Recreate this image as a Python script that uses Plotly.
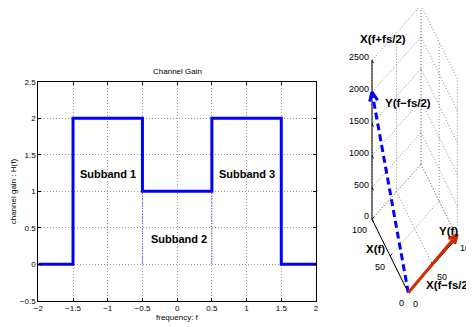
import plotly.graph_objects as go

# ---------------- left panel data ----------------
freq_edges = [-2, -1.5, -0.5, 0.5, 1.5, 2]
gain_levels = [0, 2, 1, 2, 0, 0]
sub_bounds = [-0.5, 0.5]
sub_bound_gain = [0, 1]
sub_labels = ["Subband 1", "Subband 2", "Subband 3"]
sub_label_x = [-1.0, 0.03, 1.0]
sub_label_y = [1.23, 0.34, 1.23]
x_ticks = [-2, -1.5, -1, -0.5, 0, 0.5, 1, 1.5, 2]
y_ticks = [-0.5, 0, 0.5, 1, 1.5, 2, 2.5]

# ---------------- right panel data (3-D vectors) ----------------
vec_blue = [100, 0, 2000]   # Y(f-fs/2)
vec_red = [0, 100, 50]      # Y(f)
xlim3 = [0, 100]
ylim3 = [0, 100]
zlim3 = [0, 2500]
xticks3 = [0, 50, 100]
yticks3 = [0, 50, 100]
zticks3 = [0, 500, 1000, 1500, 2000, 2500]

FONT = "Liberation Sans, Arial, Helvetica, sans-serif"
W, H = 474, 327          # browser window
PAD = 8                  # default page margin around the plot div
FW, FH = W - PAD, H - PAD


def pxx(px):
    return (px - PAD) / FW


def pxy(py):
    return 1 - (py - PAD) / FH


# projection of the 3-D view onto the right-hand 2-D canvas (screen pixel units)
O = (408.3, 292.7)
EX = (-36.3 / 100, -73.5 / 100)
EY = (49.0 / 100, -55.0 / 100)
EZ = (0.0, -159.0 / 2500)


def proj(x, y, z):
    return (O[0] + EX[0] * x + EY[0] * y + EZ[0] * z,
            O[1] + EX[1] * x + EY[1] * y + EZ[1] * z)


def seg_list(segs):
    xs, ys = [], []
    for a, b in segs:
        pa, pb = proj(*a), proj(*b)
        xs += [pa[0], pb[0], None]
        ys += [pa[1], pb[1], None]
    return xs, ys


fig = go.Figure()

# ---- left: channel gain ----
fig.add_trace(go.Scatter(x=freq_edges, y=gain_levels, mode="lines", line_shape="hv",
                         line=dict(color="#0000ff", width=3), xaxis="x", yaxis="y",
                         hoverinfo="skip", showlegend=False))
for b in sub_bounds:
    fig.add_trace(go.Scatter(x=[b, b], y=sub_bound_gain, mode="lines",
                             line=dict(color="#3333ff", width=1, dash="1px,1.5px"),
                             xaxis="x", yaxis="y", showlegend=False, hoverinfo="skip"))

annotations = []
for t, xx, yy in zip(sub_labels, sub_label_x, sub_label_y):
    annotations.append(dict(text=t, x=xx, y=yy, xref="x", yref="y", showarrow=False,
                            xanchor="center", yanchor="middle",
                            font=dict(family=FONT, size=11, color="black", weight="bold")))
annotations.append(dict(text="Channel Gain", x=pxx(177), y=pxy(72), xref="paper", yref="paper",
                        xanchor="center", yanchor="middle",
                        showarrow=False, font=dict(family=FONT, size=8, color="black")))
annotations.append(dict(text="frequency: f", x=pxx(177), y=pxy(317), xref="paper", yref="paper",
                        xanchor="center", yanchor="middle",
                        showarrow=False, font=dict(family=FONT, size=8, color="black")))
annotations.append(dict(text="channel gain : H(f)", x=pxx(13.3), y=pxy(191), xref="paper",
                        yref="paper", showarrow=False, textangle=-90,
                        xanchor="center", yanchor="middle",
                        font=dict(family=FONT, size=8, color="black")))

# ---- right: 3-D vector view ----
grid_segs = []
# wall X = 100
for z in zticks3:
    grid_segs.append(((100, ylim3[0], z), (100, ylim3[1], z)))
for y in yticks3:
    grid_segs.append(((100, y, zlim3[0]), (100, y, zlim3[1])))
# wall Y = 100
for z in zticks3:
    grid_segs.append(((xlim3[0], 100, z), (xlim3[1], 100, z)))
for x in xticks3:
    grid_segs.append(((x, 100, zlim3[0]), (x, 100, zlim3[1])))
# floor Z = 0
for x in xticks3:
    grid_segs.append(((x, ylim3[0], 0), (x, ylim3[1], 0)))
for y in yticks3:
    grid_segs.append(((xlim3[0], y, 0), (xlim3[1], y, 0)))
gx, gy = seg_list(grid_segs)
fig.add_trace(go.Scatter(x=gx, y=gy, mode="lines", line=dict(color="#8a8a8a", width=1, dash="1px,2px"),
                         xaxis="x2", yaxis="y2", showlegend=False, hoverinfo="skip"))

# axis lines + ticks
axis_segs = [((100, 0, zlim3[0]), (100, 0, zlim3[1])),
             ((xlim3[0], 0, 0), (xlim3[1], 0, 0)),
             ((0, ylim3[0], 0), (0, ylim3[1], 0))]
for z in zticks3:
    axis_segs.append(((100, 0, z), (96, 0, z)))
for x in xticks3:
    axis_segs.append(((x, 0, 0), (x, 4, 0)))
for y in yticks3:
    axis_segs.append(((0, y, 0), (4, y, 0)))
ax_x, ax_y = seg_list(axis_segs)
fig.add_trace(go.Scatter(x=ax_x, y=ax_y, mode="lines", line=dict(color="black", width=1),
                         xaxis="x2", yaxis="y2", showlegend=False, hoverinfo="skip"))


def arrow(vec, color, dash):
    p0 = proj(0, 0, 0)
    p1 = proj(*vec)
    fig.add_trace(go.Scatter(x=[p0[0], p1[0]], y=[p0[1], p1[1]], mode="lines",
                             line=dict(color=color, width=3, dash=dash),
                             xaxis="x2", yaxis="y2", showlegend=False, hoverinfo="skip"))
    dx, dy = p1[0] - p0[0], p1[1] - p0[1]
    L = (dx * dx + dy * dy) ** 0.5
    ux, uy = dx / L, dy / L
    hl, hw = 9.0, 4.0
    bx, by = p1[0] - ux * hl, p1[1] - uy * hl
    fig.add_trace(go.Scatter(x=[bx - uy * hw, p1[0], bx + uy * hw],
                             y=[by + ux * hw, p1[1], by - ux * hw], mode="lines",
                             line=dict(color=color, width=3),
                             xaxis="x2", yaxis="y2", showlegend=False, hoverinfo="skip"))


arrow(vec_blue, "#0000ff", "7px,4px")
arrow(vec_red, "#d42a00", "solid")

# z tick labels (clipped by the panel edge, as in the reference)
zl = [proj(100, 0, z) for z in zticks3]
fig.add_trace(go.Scatter(x=[p[0] - 3 for p in zl], y=[p[1] - 2 for p in zl], mode="text",
                         text=[str(z) for z in zticks3], textposition="middle left",
                         textfont=dict(family=FONT, size=9, color="black"), cliponaxis=True,
                         xaxis="x2", yaxis="y2", showlegend=False, hoverinfo="skip"))


def ann3(text, pt, dx, dy, size=9, bold=False):
    p = proj(*pt)
    f = dict(family=FONT, size=size, color="black")
    if bold:
        f["weight"] = "bold"
    annotations.append(dict(text=text, x=p[0] + dx, y=p[1] + dy, xref="x2", yref="y2",
                            xanchor="center", yanchor="middle",
                            showarrow=False, font=f))


for x, d in zip(xticks3, [(-7, 10), (-10, 11), (-12.7, 11)]):
    ann3(str(x), (x, 0, 0), *d)
for y, d in zip(yticks3, [(7, 11), (9, 11.5), (10, 10.5)]):
    ann3(str(y), (0, y, 0), *d)

ann3("X(f+fs/2)", (100, 0, 2500), 11, -21, size=11.5, bold=True)
ann3("Y(f\u2212fs/2)", tuple(vec_blue), 36, 11, size=11.5, bold=True)
ann3("X(f)", (75, 0, 0), -6, 11.7, size=11.5, bold=True)
ann3("Y(f)", tuple(vec_red), -9, -3.5, size=11.5, bold=True)
ann3("X(f\u2212fs/2)", (0, 50, 0), 16, 20, size=11.5, bold=True)

axis_common = dict(showline=True, linecolor="black", linewidth=1.2, mirror="ticks",
                   ticks="inside", ticklen=3, tickcolor="black", zeroline=False,
                   showgrid=True, gridcolor="#9a9a9a", griddash="1px,2px", gridwidth=1,
                   automargin=False,
                   tickfont=dict(family=FONT, size=8, color="black"))

fig.update_layout(
    template="none",
    width=FW, height=FH, margin=dict(l=0, r=0, t=0, b=0, pad=0),
    paper_bgcolor="white", plot_bgcolor="white", showlegend=False,
    xaxis=dict(domain=[pxx(38.3), pxx(316)], range=[-2, 2], tickvals=x_ticks, anchor="y",
               **axis_common),
    yaxis=dict(domain=[pxy(300.7), pxy(81.7)], range=[-0.5, 2.5], tickvals=y_ticks,
               anchor="x", **axis_common),
    xaxis2=dict(domain=[pxx(349), 1], range=[349, W], visible=False, anchor="y2",
                automargin=False),
    yaxis2=dict(domain=[0, 1], range=[H, PAD], visible=False, anchor="x2", automargin=False),
    annotations=annotations,
)

fig.write_html("out.html")
